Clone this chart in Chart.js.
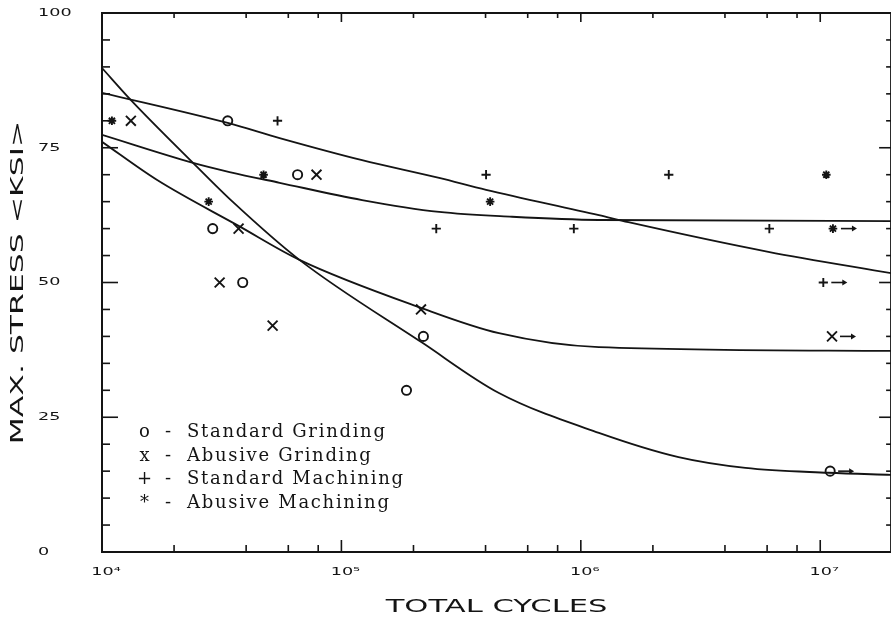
<!DOCTYPE html>
<html><head><meta charset="utf-8">
<script src="https://cdn.jsdelivr.net/npm/chart.js@4.4.1/dist/chart.umd.min.js"></script>
<style>html,body{margin:0;padding:0;overflow:hidden;background:#fff}canvas{display:block}</style>
</head><body>
<canvas id="c" width="900" height="619"></canvas>
<script>
// ---- measured points (cycles, ksi); runout flag = test stopped without failure (arrow)
const stdGrindX = [3.35e4, 6.56e4, 2.9e4, 3.87e4, 2.2e5, 1.87e5, 1.1e7];
const stdGrindY = [80, 70, 60, 50, 40, 30, 15];
const stdGrindRunout = [0, 0, 0, 0, 0, 0, 1];

const abuGrindX = [1.32e4, 7.87e4, 3.72e4, 3.1e4, 5.16e4, 2.15e5, 1.12e7];
const abuGrindY = [80, 70, 60, 50, 42, 45, 40];
const abuGrindRunout = [0, 0, 0, 0, 0, 0, 1];

const stdMachX = [5.41e4, 4.02e5, 2.49e5, 9.35e5, 2.33e6, 6.13e6, 1.03e7];
const stdMachY = [80, 70, 60, 60, 70, 60, 50];
const stdMachRunout = [0, 0, 0, 0, 0, 0, 1];

const abuMachX = [1.1e4, 4.73e4, 2.79e4, 4.18e5, 1.06e7, 1.13e7];
const abuMachY = [80, 70, 65, 65, 70, 60];
const abuMachRunout = [0, 0, 0, 0, 0, 1];

// ---- fitted curves
const curve1X = [1e4, 3.35e4, 5.52e4, 1.22e5, 2.56e5, 4.02e5, 1.19e6, 1.58e6, 6.07e6, 2e7];
const curve1Y = [85.2, 79.6, 76.8, 72.7, 69.4, 67.2, 62.5, 61.2, 55.7, 51.7];
const curve2X = [1e4, 2.4e4, 3.41e4, 5.52e4, 1.22e5, 2.56e5, 5.16e5, 1.19e6, 2e7];
const curve2Y = [77.4, 72.2, 70.5, 68.5, 65.3, 63.1, 62.2, 61.6, 61.4];
const curve3X = [1e4, 1.7e4, 3.72e4, 6.68e4, 2.15e5, 4.55e5, 1.19e6, 2e7];
const curve3Y = [76.1, 69.0, 60.5, 54.2, 45.3, 40.6, 38.0, 37.3];
const curve4X = [1e4, 1.33e4, 2.4e4, 3.51e4, 6.68e4, 2.18e5, 4.55e5, 1.19e6, 2.56e6, 4.87e6, 1.08e7, 2e7];
const curve4Y = [89.8, 83.7, 72.2, 65.0, 54.2, 38.8, 29.5, 22.1, 17.6, 15.6, 14.7, 14.3];

// ---- axes
const xMin = 1e4, xMax = 1.977e7;
const xMajorTicks = [1e4, 1e5, 1e6, 1e7];
const xTickLabels = ['10\u2074', '10\u2075', '10\u2076', '10\u2077'];
const xMinorTicks = [2e4, 4e4, 6e4, 8e4, 2e5, 4e5, 6e5, 8e5, 2e6, 4e6, 6e6, 8e6];
const yMajorTicks = [0, 25, 50, 75, 100];
const yTickLabels = ['0', '25', '50', '75', '100'];
const yMinorTicks = [5, 10, 15, 20, 30, 35, 40, 45, 55, 60, 65, 70, 80, 85, 90, 95];
const xTitle = 'TOTAL CYCLES';
const yTitle = 'MAX. STRESS <KSI>';

const legendSymbols = ['o', 'x', '+', '*'];
const legendLabels = ['Standard Grinding', 'Abusive Grinding', 'Standard Machining', 'Abusive Machining'];

const INK = '#141414';

// plotter-style wide lettering for axis texts
const canvas = document.getElementById('c');
const ctx2d = canvas.getContext('2d');
const stretch = new Map();
xTickLabels.forEach(t => stretch.set(t, 1.6));
yTickLabels.forEach(t => stretch.set(t, 1.6));
stretch.set(xTitle, 1.7);
stretch.set(yTitle, 1.85);
const origFill = ctx2d.fillText;
ctx2d.fillText = function (text, x, y, maxWidth) {
  const sx = stretch.get(text);
  if (!sx) {
    return maxWidth === undefined ? origFill.call(this, text, x, y) : origFill.call(this, text, x, y, maxWidth);
  }
  this.save();
  this.translate(x, y);
  this.scale(sx, 1);
  if (maxWidth === undefined) origFill.call(this, text, 0, 0); else origFill.call(this, text, 0, 0, maxWidth);
  this.restore();
};

const zip = (xs, ys) => xs.map((x, i) => ({x: x, y: ys[i]}));

function pointSet(label, xs, ys, style, radius) {
  return {
    label: label, data: zip(xs, ys), showLine: false,
    pointStyle: style, pointRadius: radius, pointHoverRadius: radius,
    borderColor: INK, backgroundColor: 'rgba(0,0,0,0)', pointBorderWidth: 1.9
  };
}
function curveSet(xs, ys) {
  return {
    label: 'fit', data: zip(xs, ys), showLine: true, pointRadius: 0,
    borderColor: INK, borderWidth: 1.8, cubicInterpolationMode: 'monotone', fill: false
  };
}

const frameTicks = {
  id: 'frameTicks',
  afterDraw(chart) {
    const c = chart.ctx, a = chart.chartArea, xs = chart.scales.x, ys = chart.scales.y;
    c.save();
    c.strokeStyle = INK;
    c.lineWidth = 2;
    c.strokeRect(a.left, a.top, a.right - a.left, a.bottom - a.top);
    c.lineWidth = 1.6;
    const vt = (v, len, edge, dir) => { const p = xs.getPixelForValue(v); c.beginPath(); c.moveTo(p, edge); c.lineTo(p, edge + dir * len); c.stroke(); };
    const ht = (v, len, edge, dir) => { const p = ys.getPixelForValue(v); c.beginPath(); c.moveTo(edge, p); c.lineTo(edge + dir * len, p); c.stroke(); };
    xMajorTicks.forEach(v => { vt(v, 12, a.bottom, -1); vt(v, 9, a.top, 1); });
    xMinorTicks.forEach(v => { vt(v, 7, a.bottom, -1); vt(v, 5, a.top, 1); });
    yMajorTicks.forEach(v => { ht(v, 16, a.left, 1); ht(v, 12, a.right, -1); });
    yMinorTicks.forEach(v => { ht(v, 8, a.left, 1); ht(v, 5, a.right, -1); });
    c.restore();
  }
};

const runoutSets = [stdGrindRunout, abuGrindRunout, stdMachRunout, abuMachRunout];
const runoutArrows = {
  id: 'runoutArrows',
  afterDatasetsDraw(chart) {
    const c = chart.ctx;
    c.save();
    c.strokeStyle = INK; c.fillStyle = INK; c.lineWidth = 1.6;
    runoutSets.forEach((flags, d) => {
      chart.getDatasetMeta(d).data.forEach((pt, i) => {
        if (!flags[i]) return;
        const x0 = pt.x + 8, x1 = pt.x + 24, y = pt.y;
        c.beginPath(); c.moveTo(x0, y); c.lineTo(x1 - 3, y); c.stroke();
        c.beginPath(); c.moveTo(x1, y); c.lineTo(x1 - 5, y - 3); c.lineTo(x1 - 5, y + 3); c.closePath(); c.fill();
      });
    });
    c.restore();
  }
};

const textLegend = {
  id: 'textLegend',
  afterDraw(chart) {
    const c = chart.ctx, a = chart.chartArea;
    c.save();
    c.font = '18px "DejaVu Serif"';
    c.fillStyle = INK;
    c.textBaseline = 'middle';
    legendLabels.forEach((lab, i) => {
      const y = a.top + 419 + i * 23.9;
      c.letterSpacing = '0px';
      c.textAlign = 'center';
      c.fillText(legendSymbols[i], a.left + 42.5, y);
      c.fillText('-', a.left + 66, y);
      c.textAlign = 'left';
      c.letterSpacing = '1.7px';
      c.fillText(lab, a.left + 85, y);
    });
    c.restore();
  }
};

new Chart(ctx2d, {
  type: 'scatter',
  data: {
    datasets: [
      pointSet(legendLabels[0], stdGrindX, stdGrindY, 'circle', 4.6),
      pointSet(legendLabels[1], abuGrindX, abuGrindY, 'crossRot', 7),
      pointSet(legendLabels[2], stdMachX, stdMachY, 'cross', 4.6),
      pointSet(legendLabels[3], abuMachX, abuMachY, 'star', 4.3),
      curveSet(curve1X, curve1Y),
      curveSet(curve2X, curve2Y),
      curveSet(curve3X, curve3Y),
      curveSet(curve4X, curve4Y)
    ]
  },
  options: {
    responsive: false, animation: false, devicePixelRatio: 1,
    layout: {padding: {left: 38, right: 7, top: 13, bottom: 0}},
    plugins: {legend: {display: false}, tooltip: {enabled: false}},
    scales: {
      x: {
        type: 'logarithmic', min: xMin, max: xMax,
        grid: {display: false, drawTicks: false}, border: {display: false},
        afterBuildTicks: s => { s.ticks = xMajorTicks.map(v => ({value: v})); },
        afterFit: s => { s.height = 67; },
        ticks: {
          callback: (v, i) => xTickLabels[i] || '',
          font: {family: 'DejaVu Sans', size: 11}, color: INK,
          padding: 14, labelOffset: 4, autoSkip: false, maxRotation: 0
        },
        title: {display: true, text: xTitle, font: {family: 'DejaVu Sans', size: 18}, color: INK, padding: {top: 0, bottom: 1}}
      },
      y: {
        min: 0, max: 100,
        grid: {display: false, drawTicks: false}, border: {display: false},
        afterBuildTicks: s => { s.ticks = yMajorTicks.map(v => ({value: v})); },
        afterFit: s => { s.width = 64; },
        ticks: {
          callback: (v, i) => yTickLabels[i],
          crossAlign: 'far', font: {family: 'DejaVu Sans', size: 11}, color: INK, padding: 0
        },
        title: {display: true, text: yTitle, font: {family: 'DejaVu Sans', size: 17}, color: INK, padding: {top: -30, bottom: 0}}
      }
    }
  },
  plugins: [frameTicks, runoutArrows, textLegend]
});
</script>
</body></html>
